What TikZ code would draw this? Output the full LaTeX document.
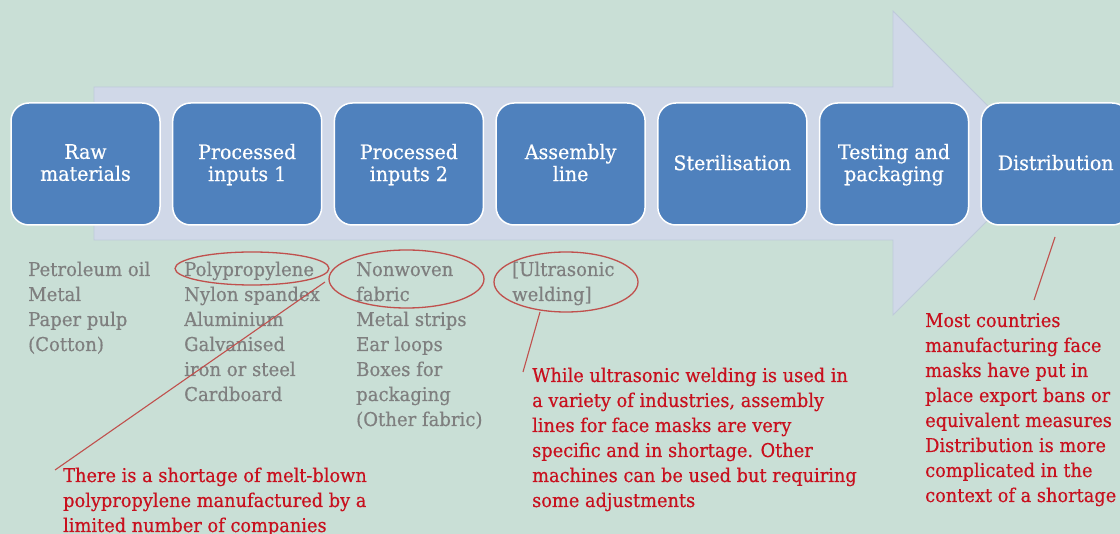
\documentclass[tikz,border=0pt]{standalone}
\usepackage{fontspec}
\setmainfont[FakeStretch=0.95,FakeBold=0.5]{DejaVu Serif}
\newfontfamily\redfont[FakeStretch=0.935,FakeBold=0.5]{DejaVu Serif}
\usetikzlibrary{shapes.geometric}
\definecolor{bg}{RGB}{201,223,214}
\definecolor{arrowfill}{RGB}{208,216,232}
\definecolor{arrowedge}{RGB}{190,202,218}
\definecolor{boxblue}{RGB}{79,129,189}
\definecolor{graytext}{RGB}{127,127,127}
\definecolor{redtext}{RGB}{200,16,30}
\definecolor{ringred}{RGB}{192,80,77}
\newcommand\stk[1]{\begin{tabular}[t]{@{}l@{}}#1\end{tabular}}
\begin{document}
\begin{tikzpicture}[x=1pt,y=-1pt,
 stage/.style={draw=white, line width=1.5pt, fill=boxblue, rounded corners=18pt,
   minimum width=149pt, minimum height=122pt, text=white, align=center,
   font=\fontsize{20}{22}\selectfont, inner sep=0pt, text depth=3pt},
 graytxt/.style={anchor=base west, inner sep=0pt, text=graytext, font=\fontsize{19}{25}\selectfont},
 redtxt/.style={anchor=base west, inner sep=0pt, text=redtext, font=\redfont\fontsize{19}{25}\selectfont},
 ring/.style={ellipse, draw=ringred, line width=1.3pt, inner sep=0pt},
 pointer/.style={draw=ringred, line width=1.1pt}]
\useasboundingbox (0,0) rectangle (1120,534);
\clip (0,0) rectangle (1120,534);
\fill[bg] (0,0) rectangle (1120,534);
\filldraw[fill=arrowfill, draw=arrowedge, line width=0.8pt]
  (94,87) -- (893,87) -- (893,11) -- (1045,163) -- (893,315) -- (893,240) -- (94,240) -- cycle;
\node[stage] (raw)  at (85.5,164)  {Raw\\materials};
\node[stage] (pi1)  at (247.2,164) {Processed\\inputs 1};
\node[stage] (pi2)  at (408.9,164) {Processed\\inputs 2};
\node[stage] (asm)  at (570.6,164) {Assembly\\line};
\node[stage] (ster) at (732.3,164) {Sterilisation};
\node[stage] (test) at (894,164)   {Testing and\\packaging};
\node[stage] (dist) at (1055.7,164) {Distribution};
\node[graytxt] (c1) at (28,276) {\stk{Petroleum oil\\Metal\\Paper pulp\\(Cotton)}};
\node[graytxt] (c2) at (184,276) {\stk{Polypropylene\\Nylon spandex\\Aluminium\\Galvanised\\iron or steel\\Cardboard}};
\node[graytxt] (c3) at (356,276) {\stk{Nonwoven\\fabric\\Metal strips\\Ear loops\\Boxes for\\packaging\\(Other fabric)}};
\node[graytxt] (c4) at (512,276) {\stk{[Ultrasonic\\welding]}};
\node[ring, minimum width=154pt, minimum height=33pt] (e1) at (252,268.5) {};
\node[ring, minimum width=155pt, minimum height=58pt] (e2) at (406.5,279) {};
\node[ring, minimum width=144pt, minimum height=60pt] (e3) at (566,282) {};
\node[redtxt] (t1) at (63,482) {\stk{There is a shortage of melt-blown\\polypropylene manufactured by a\\limited number of companies}};
\node[redtxt] (t2) at (532,382) {\stk{While ultrasonic welding is used in\\a variety of industries, assembly\\lines for face masks are very\\specific and in shortage. Other\\machines can be used but requiring\\some adjustments}};
\node[redtxt] (t3) at (925,327) {\stk{Most countries\\manufacturing face\\masks have put in\\place export bans or\\equivalent measures\\Distribution is more\\complicated in the\\context of a shortage}};
\coordinate (p1) at (325,282);
\coordinate (q1) at (55,470);
\coordinate (p2) at (540,312);
\coordinate (q2) at (523,372);
\coordinate (p3) at (1055,237);
\coordinate (q3) at (1034,300);
\draw[pointer] (p1) -- (q1);
\draw[pointer] (p2) -- (q2);
\draw[pointer] (p3) -- (q3);
\end{tikzpicture}
\end{document}
